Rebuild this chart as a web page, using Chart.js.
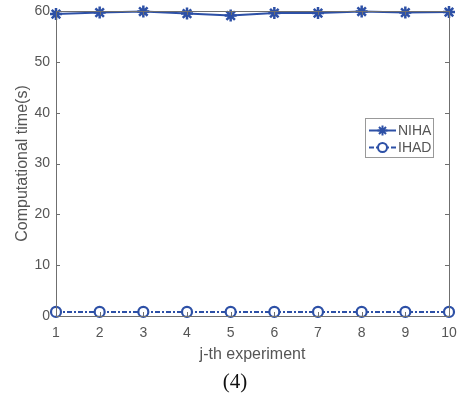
<!DOCTYPE html>
<html><head><meta charset="utf-8">
<script src="https://cdn.jsdelivr.net/npm/chart.js@4/dist/chart.umd.min.js"></script>
<style>html,body{margin:0;padding:0;background:#fff;}canvas{display:block;}</style>
</head><body>
<canvas id="c" width="461" height="405"></canvas>
<script>
const experiments = [1,2,3,4,5,6,7,8,9,10];
const nihaTimes = [59.4,59.7,59.9,59.5,59.1,59.6,59.6,59.9,59.7,59.8];
const ihadTimes = [0.8,0.8,0.8,0.8,0.8,0.8,0.8,0.8,0.8,0.8];
const yTicks = [0,10,20,30,40,50,60];
const seriesNames = ['NIHA','IHAD'];

const blue = '#2d50a6';
const axisCol = '#6f6f6f';
const textCol = '#555555';
const font = 'Liberation Sans, Arial, sans-serif';

const boxPlugin = {
  id: 'box',
  afterDraw(chart) {
    const {ctx, chartArea: a, scales} = chart;
    ctx.save();
    ctx.strokeStyle = axisCol; ctx.lineWidth = 1;
    ctx.strokeRect(Math.round(a.left)+0.5, Math.round(a.top)+0.5, Math.round(a.right-a.left), Math.round(a.bottom-a.top));
    ctx.beginPath();
    yTicks.forEach(v => {
      const y = Math.round(scales.y.getPixelForValue(v))+0.5;
      ctx.moveTo(a.left, y); ctx.lineTo(a.left+4, y);
      ctx.moveTo(a.right, y); ctx.lineTo(a.right-4, y);
    });
    experiments.forEach(v => {
      const x = Math.round(scales.x.getPixelForValue(v))+0.5;
      ctx.moveTo(x, a.bottom); ctx.lineTo(x, a.bottom-4);
      ctx.moveTo(x, a.top); ctx.lineTo(x, a.top+4);
    });
    ctx.stroke();
    // legend
    const lx = 365.5, ly = 118.5, lw = 68, lh = 39;
    ctx.fillStyle = '#fff'; ctx.fillRect(lx, ly, lw, lh);
    ctx.strokeStyle = '#999'; ctx.strokeRect(lx, ly, lw, lh);
    const rows = [{y: 130.5}, {y: 147.5}];
    rows.forEach((r, i) => {
      ctx.strokeStyle = blue; ctx.lineWidth = 2;
      ctx.setLineDash(i === 1 ? [5,2,2,2] : []);
      ctx.beginPath(); ctx.moveTo(369, r.y); ctx.lineTo(396, r.y); ctx.stroke();
      ctx.setLineDash([]);
      if (i === 0) {
        Chart.helpers.drawPoint(ctx, {pointStyle: 'star', radius: 5, borderWidth: 2}, 382.5, r.y);
      } else {
        ctx.fillStyle = '#fff';
        ctx.beginPath(); ctx.arc(382.5, r.y, 4.5, 0, Math.PI*2); ctx.fill(); ctx.stroke();
      }
      ctx.fillStyle = textCol; ctx.font = '14px ' + font; ctx.textBaseline = 'middle'; ctx.textAlign = 'left';
      ctx.fillText(seriesNames[i], 398, r.y + 1);
    });
    // caption
    ctx.fillStyle = '#111'; ctx.font = '21px Liberation Serif, Times New Roman, serif';
    ctx.textAlign = 'center'; ctx.textBaseline = 'middle';
    ctx.fillText('(4)', 235, 382);
    ctx.restore();
  }
};

new Chart(document.getElementById('c'), {
  type: 'line',
  data: {
    datasets: [
      {label: seriesNames[0], data: experiments.map((x,i)=>({x, y: nihaTimes[i]})),
       borderColor: blue, backgroundColor: blue, borderWidth: 2, pointStyle: 'star', pointRadius: 6,
       pointBorderWidth: 2.5, pointBorderColor: blue, tension: 0, clip: false},
      {label: seriesNames[1], data: experiments.map((x,i)=>({x, y: ihadTimes[i]})),
       borderColor: blue, backgroundColor: '#fff', borderWidth: 2, borderDash: [5,2,2,2], pointStyle: 'circle', pointRadius: 5,
       pointBorderWidth: 2.2, pointBorderColor: blue, pointBackgroundColor: '#fff', tension: 0, clip: false}
    ]
  },
  options: {
    responsive: false, animation: false, devicePixelRatio: 1,
    layout: {padding: {left: 0, top: 11, right: 12, bottom: 41}},
    plugins: {legend: {display: false}, tooltip: {enabled: false}},
    scales: {
      x: {type: 'linear', min: 1, max: 10,
          afterFit: s => { s.height = 48; s.paddingLeft = 0; s.paddingRight = 0; },
          grid: {display: false, drawTicks: false}, border: {display: false},
          ticks: {stepSize: 1, color: textCol, font: {family: font, size: 14}, padding: 9},
          title: {display: true, text: 'j-th experiment', color: textCol, font: {family: font, size: 16}, padding: {top: 0, bottom: 0}}},
      y: {type: 'linear', min: 0, max: 60,
          afterFit: s => { s.width = 56; s.paddingTop = 0; s.paddingBottom = 0; },
          grid: {display: false, drawTicks: false}, border: {display: false},
          ticks: {stepSize: 10, color: textCol, font: {family: font, size: 14}, padding: 6},
          title: {display: true, text: 'Computational time(s)', color: textCol, font: {family: font, size: 16}, padding: {top: 13, bottom: 0}}}
    }
  },
  plugins: [boxPlugin]
});
</script>
</body></html>
